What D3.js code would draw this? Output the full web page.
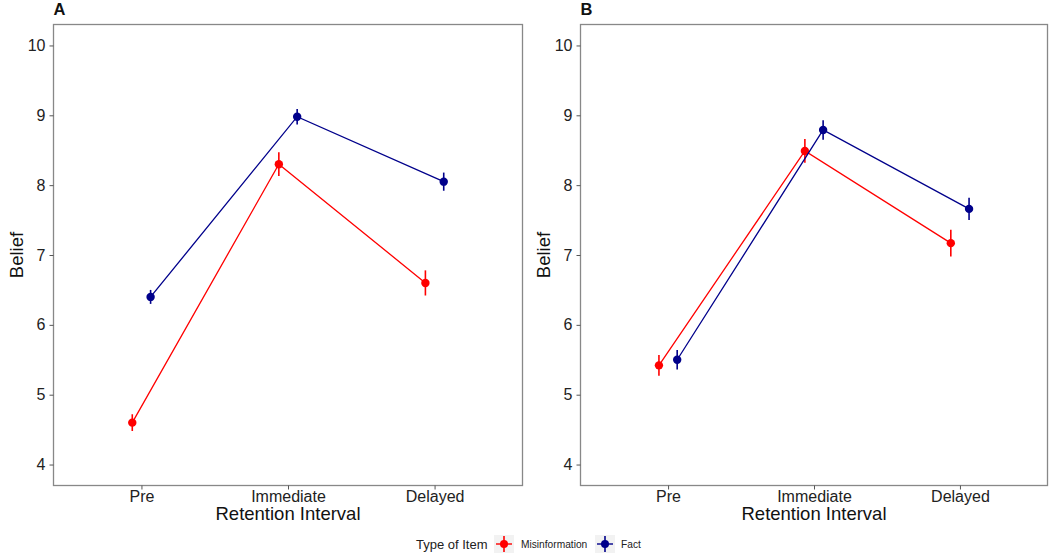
<!DOCTYPE html>
<html><head><meta charset="utf-8">
<script src="https://cdn.jsdelivr.net/npm/d3@7"></script>
<style>body{margin:0;background:#fff;} text{font-family:"Liberation Sans",Arial,sans-serif;}</style>
</head><body>
<svg id="c" width="1050" height="557"></svg>
<script>
const categories = ["Pre", "Immediate", "Delayed"];
const seriesNames = ["Misinformation", "Fact"];
const seriesColors = ["#FF0000", "#00008B"];
const yTicks = [4, 5, 6, 7, 8, 9, 10];
const panelLabels = ["A", "B"];
// Panel A
const aMisMean = [4.60, 8.30, 6.60];
const aMisErr  = [0.12, 0.17, 0.18];
const aFactMean = [6.40, 8.98, 8.05];
const aFactErr  = [0.10, 0.11, 0.13];
// Panel B
const bMisMean = [5.42, 8.49, 7.17];
const bMisErr  = [0.15, 0.17, 0.19];
const bFactMean = [5.50, 8.79, 7.66];
const bFactErr  = [0.14, 0.14, 0.16];

const panels = [
  {label: panelLabels[0], left: 53.5, right: 522.5, series: [{m: aMisMean, e: aMisErr}, {m: aFactMean, e: aFactErr}]},
  {label: panelLabels[1], left: 580.5, right: 1047.5, series: [{m: bMisMean, e: bMisErr}, {m: bFactMean, e: bFactErr}]}
];
const plotTop = 24.5, plotBottom = 485.5;
const svg = d3.select("#c");
const y = d3.scaleLinear().domain([3.7, 10.3]).range([plotBottom, plotTop]);

panels.forEach(p => {
  const x = d3.scaleLinear().domain([0.4, 3.6]).range([p.left, p.right]);
  const g = svg.append("g");
  const dodge = 0.0625;
  g.append("rect").attr("x", p.left).attr("y", plotTop).attr("width", p.right - p.left).attr("height", plotBottom - plotTop)
    .attr("fill", "none").attr("stroke", "#888").attr("stroke-width", 1.3);
  const yAx = g.append("g").attr("transform", `translate(${p.left},0)`)
    .call(d3.axisLeft(y).tickValues(yTicks).tickSize(4).tickPadding(4).tickFormat(d3.format("d")));
  yAx.select(".domain").remove();
  yAx.selectAll("line").attr("stroke", "#555");
  yAx.selectAll("text").attr("font-size", 16).attr("fill", "#222").attr("font-family", "Liberation Sans, Arial, sans-serif");
  const xAx = g.append("g").attr("transform", `translate(0,${plotBottom})`)
    .call(d3.axisBottom(x).tickValues([1, 2, 3]).tickSize(4).tickPadding(1.5).tickFormat(d => categories[d - 1]));
  xAx.select(".domain").remove();
  xAx.selectAll("line").attr("stroke", "#555");
  xAx.selectAll("text").attr("font-size", 16).attr("fill", "#222").attr("font-family", "Liberation Sans, Arial, sans-serif");
  g.append("text").attr("x", (p.left + p.right) / 2).attr("y", 520).attr("text-anchor", "middle")
    .attr("font-size", 18.5).attr("fill", "#111").text("Retention Interval");
  g.append("text").attr("transform", `translate(${p.left - 31},${(plotTop + plotBottom) / 2}) rotate(-90)`)
    .attr("text-anchor", "middle").attr("font-size", 18.5).attr("fill", "#111").text("Belief");
  g.append("text").attr("x", p.left).attr("y", 15).attr("font-size", 16.5).attr("font-weight", "bold")
    .attr("fill", "#111").text(p.label);
  p.series.forEach((s, si) => {
    const off = si === 0 ? -dodge : dodge;
    const pts = s.m.map((v, i) => ({cx: i + 1 + off, v, e: s.e[i]}));
    const col = seriesColors[si];
    g.append("path").datum(pts)
      .attr("d", d3.line().x(d => x(d.cx)).y(d => y(d.v)))
      .attr("fill", "none").attr("stroke", col).attr("stroke-width", 1.3);
    g.selectAll(null).data(pts).enter().append("line")
      .attr("x1", d => x(d.cx)).attr("x2", d => x(d.cx))
      .attr("y1", d => y(d.v - d.e)).attr("y2", d => y(d.v + d.e))
      .attr("stroke", col).attr("stroke-width", 1.6);
    g.selectAll(null).data(pts).enter().append("circle")
      .attr("cx", d => x(d.cx)).attr("cy", d => y(d.v)).attr("r", 4.2).attr("fill", col);
  });
});

const lg = svg.append("g").attr("transform", "translate(0,544)");
lg.append("text").attr("x", 416).attr("y", 4.5).attr("font-size", 13).attr("fill", "#222").text("Type of Item");
const keyX = [494, 595], labX = [521, 621];
seriesNames.forEach((n, i) => {
  const k = lg.append("g").attr("transform", `translate(${keyX[i]},0)`);
  k.append("rect").attr("x", 0).attr("y", -9).attr("width", 20).attr("height", 18).attr("fill", "#f2f2f2");
  k.append("line").attr("x1", 2).attr("x2", 18).attr("y1", 0).attr("y2", 0).attr("stroke", seriesColors[i]).attr("stroke-width", 1.4);
  k.append("line").attr("x1", 10).attr("x2", 10).attr("y1", -8).attr("y2", 8).attr("stroke", seriesColors[i]).attr("stroke-width", 1.6);
  k.append("circle").attr("cx", 10).attr("cy", 0).attr("r", 4).attr("fill", seriesColors[i]);
  lg.append("text").attr("x", labX[i]).attr("y", 4).attr("font-size", 10.2).attr("fill", "#222").text(n);
});
</script>
</body></html>
